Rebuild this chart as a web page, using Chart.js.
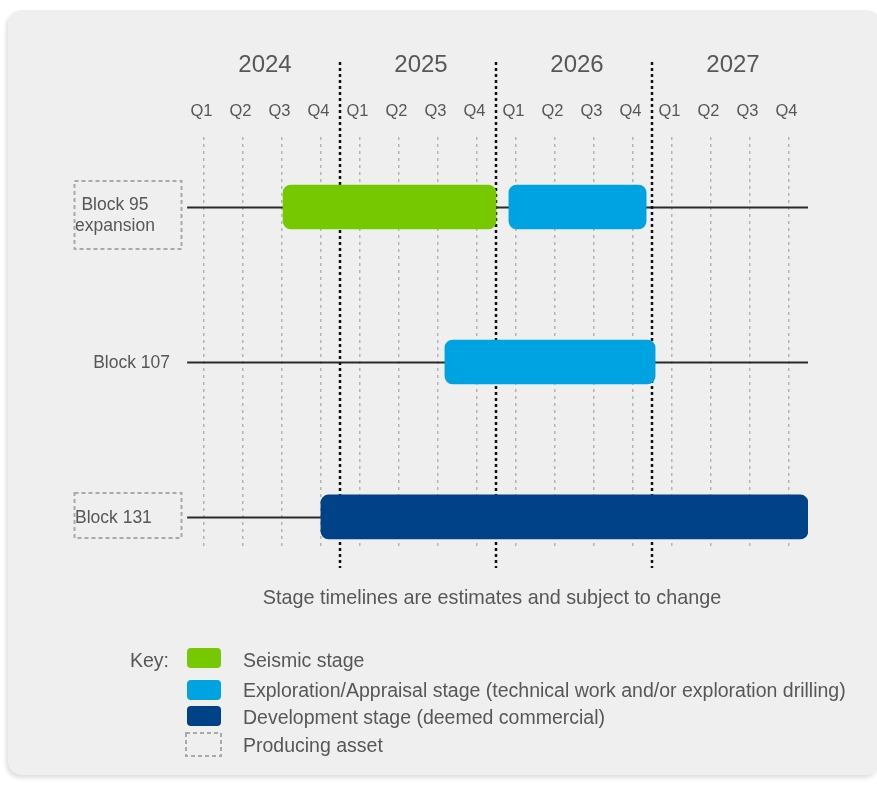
<!DOCTYPE html>
<html>
<head>
<meta charset="utf-8">
<script src="https://cdn.jsdelivr.net/npm/chart.js@4.4.1/dist/chart.umd.min.js"></script>
<style>
  html, body { margin: 0; padding: 0; background: #ffffff; }
  #wrap { position: relative; width: 877px; height: 785px; overflow: hidden; }
  #panel {
    position: absolute; left: 8px; top: 10px; width: 872px; height: 765px;
    background: #efefef; border-radius: 14px;
    box-shadow: -2px 3px 4px rgba(0, 0, 0, 0.13);
  }
  #chart { position: absolute; left: 0; top: 0; }
</style>
</head>
<body>
<div id="wrap">
  <div id="panel"></div>
  <canvas id="chart" width="877" height="785"></canvas>
</div>
<script>
// Datos del cronograma (eje x en trimestres: 0 = inicio de 2024, 16 = fin de 2027)
const years = ['2024', '2025', '2026', '2027'];
const quarterLabels = ['Q1', 'Q2', 'Q3', 'Q4'];
const blocks = [['Block 95', 'expansion'], ['Block 107'], ['Block 131']];
const producingAsset = [true, false, true];
const timelineSpan = [0.08, 16];

// Etapas por bloque: [inicio, fin] o null
const seismic = [[2.54, 8.0], null, null];
const exploration = [[8.33, 11.85], [6.69, 12.08], null];
const development = [null, null, [3.51, 16]];

const stageNames = [
    'Seismic stage',
    'Exploration/Appraisal stage (technical work and/or exploration drilling)',
    'Development stage (deemed commercial)'
];
const producingName = 'Producing asset';
const caption = 'Stage timelines are estimates and subject to change';

const colors = ['#76c800', '#00a3e2', '#004288'];
const textColor = '#575757';
const font = '"Liberation Sans", Arial, sans-serif';

function toPoints(rows) {
    return rows.map((r, i) => r ? { x: r, y: i } : null).filter(p => p);
}

// Dibuja lineas, separadores de año, textos y la leyenda
const overlay = {
    id: 'overlay',
    beforeDatasetsDraw(chart) {
        const { ctx, scales: { x, y } } = chart;
        ctx.save();
        ctx.strokeStyle = '#2a2a2a';
        ctx.lineWidth = 2;
        blocks.forEach((b, i) => {
            const py = Math.round(y.getPixelForValue(i)) + 0.5;
            ctx.beginPath();
            ctx.moveTo(x.getPixelForValue(timelineSpan[0]), py);
            ctx.lineTo(x.getPixelForValue(timelineSpan[1]), py);
            ctx.stroke();
        });
        // separadores entre años
        ctx.strokeStyle = '#111';
        ctx.lineWidth = 2.5;
        ctx.setLineDash([3, 3]);
        for (let k = 1; k < years.length; k++) {
            const px = Math.round(x.getPixelForValue(k * 4));
            ctx.beginPath();
            ctx.moveTo(px, 62);
            ctx.lineTo(px, 568);
            ctx.stroke();
        }
        ctx.restore();
    },
    afterDraw(chart) {
        const { ctx, scales: { x, y }, chartArea } = chart;
        ctx.save();
        ctx.fillStyle = textColor;
        ctx.textBaseline = 'middle';

        // años y trimestres
        ctx.textAlign = 'center';
        ctx.font = '24px ' + font;
        years.forEach((yr, k) => ctx.fillText(yr, x.getPixelForValue(k * 4 + 2) + 3, 65));
        ctx.font = '16.5px ' + font;
        x.ticks.forEach((t, i) => ctx.fillText(quarterLabels[i % 4], x.getPixelForValue(t.value) - 2, 111));

        // etiquetas de bloques
        ctx.font = '17.5px ' + font;
        const align = ['center', 'right', 'left'];
        const tx = [115, 170, 75];
        blocks.forEach((lines, i) => {
            const py = y.getPixelForValue(i);
            ctx.textAlign = align[i];
            if (lines.length === 2) {
                ctx.fillText(lines[0], tx[i], py - 2);
                ctx.fillText(lines[1], tx[i], py + 19);
            } else {
                ctx.fillText(lines[0], tx[i], py + 1);
            }
            if (producingAsset[i]) {
                const top = lines.length === 2 ? py - 26 : py - 24;
                const bottom = lines.length === 2 ? py + 42 : py + 21;
                ctx.save();
                ctx.strokeStyle = '#a9a9a9';
                ctx.lineWidth = 2;
                ctx.setLineDash([4, 3]);
                ctx.strokeRect(74.5, top, 107, bottom - top);
                ctx.restore();
            }
        });

        // nota
        ctx.textAlign = 'center';
        ctx.font = '19.8px ' + font;
        ctx.fillText(caption, (chartArea.left + chartArea.right) / 2 - 4, 599);

        // leyenda
        ctx.textAlign = 'left';
        ctx.font = '19.5px ' + font;
        ctx.fillText('Key:', 130, 662);
        const swTop = [648, 680, 706];
        const txtY = [662, 692, 719];
        stageNames.forEach((name, i) => {
            ctx.fillStyle = colors[i];
            ctx.beginPath();
            ctx.roundRect(187, swTop[i], 34, 20, 4);
            ctx.fill();
            ctx.fillStyle = textColor;
            ctx.fillText(name, 243, txtY[i]);
        });
        ctx.save();
        ctx.strokeStyle = '#a9a9a9';
        ctx.lineWidth = 2;
        ctx.setLineDash([4, 3]);
        ctx.strokeRect(186, 733, 35, 23);
        ctx.restore();
        ctx.fillText(producingName, 243, 747);
        ctx.restore();
    }
};

const barStyle = { barThickness: 44, borderRadius: 8, borderSkipped: false, grouped: false };

new Chart(document.getElementById('chart'), {
    type: 'bar',
    data: {
        datasets: [
            { label: stageNames[0], data: toPoints(seismic), backgroundColor: colors[0], ...barStyle },
            { label: stageNames[1], data: toPoints(exploration), backgroundColor: colors[1], ...barStyle },
            { label: stageNames[2], data: toPoints(development), backgroundColor: colors[2], ...barStyle }
        ]
    },
    options: {
        indexAxis: 'y',
        responsive: false,
        animation: false,
        layout: { padding: { left: 184, right: 69, top: 137, bottom: 238 } },
        plugins: { legend: { display: false }, tooltip: { enabled: false } },
        scales: {
            x: {
                type: 'linear',
                min: 0,
                max: 16,
                afterBuildTicks: axis => {
                    axis.ticks = Array.from({ length: 16 }, (_, i) => ({ value: i + 0.5 }));
                },
                ticks: { display: false },
                grid: { color: '#b4b4b4', lineWidth: 1.5, drawTicks: false },
                border: { display: false, dash: [3, 4] }
            },
            y: {
                type: 'linear',
                reverse: true,
                offset: false,
                min: -0.452,
                max: 2.194,
                display: false
            }
        }
    },
    plugins: [overlay]
});
</script>
</body>
</html>
